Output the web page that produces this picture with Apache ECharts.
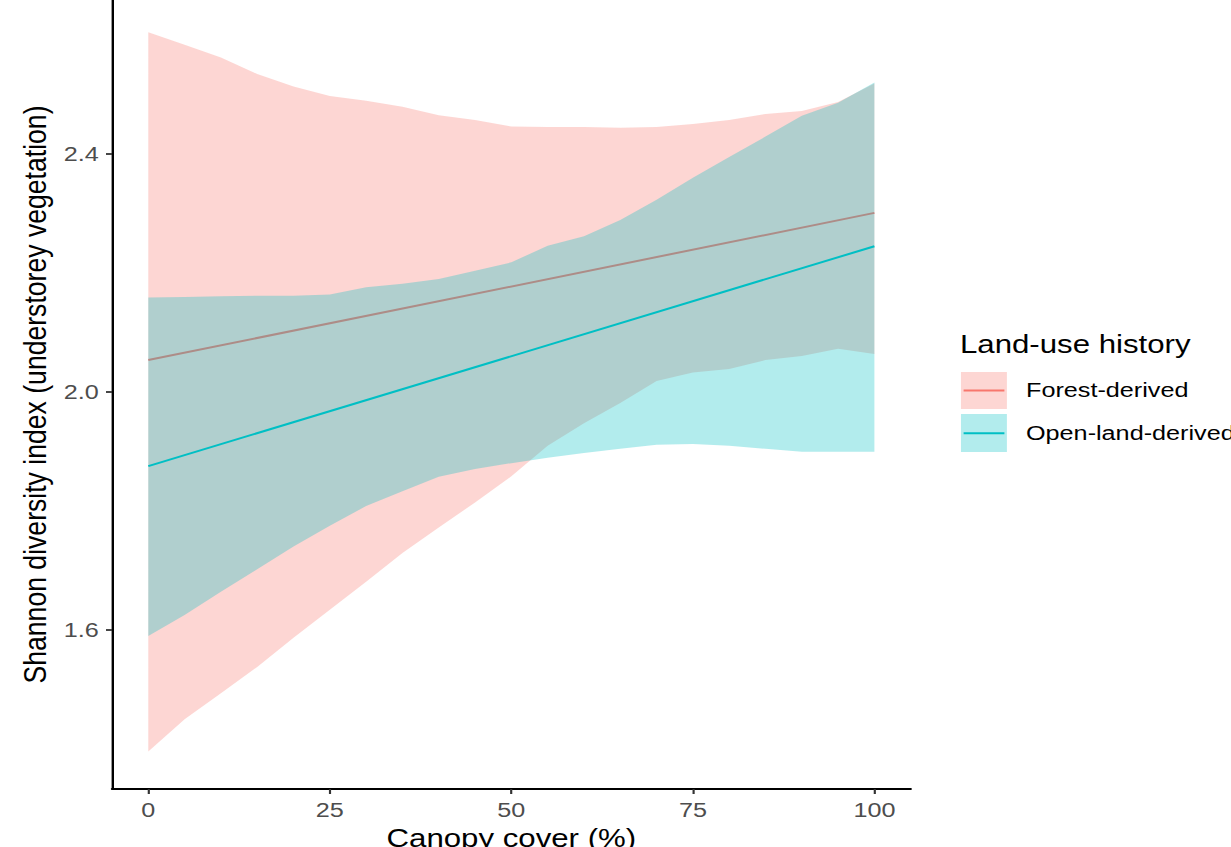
<!DOCTYPE html>
<html>
<head>
<meta charset="utf-8">
<script src="https://cdn.jsdelivr.net/npm/echarts@6/dist/echarts.min.js"></script>
<style>
  html, body { margin: 0; padding: 0; overflow: hidden; background: #fff; width: 1231px; height: 847px; }
  /* the figure is drawn narrow and widened horizontally, like the original export */
  #chart { width: 1025.83px; height: 847px; transform: scaleX(1.2); transform-origin: 0 0; }
</style>
</head>
<body>
<div id="chart"></div>
<script>
// Canopy cover (%) at which the model prediction bands are evaluated
const canopy = [0, 5, 10, 15, 20, 25, 30, 35, 40, 45, 50, 55, 60, 65, 70, 75, 80, 85, 90, 95, 100];

// 95% confidence band, forest-derived stands
const forestLower = [1.396, 1.450, 1.494, 1.538, 1.587, 1.634, 1.681, 1.729, 1.772, 1.814, 1.858,
                     1.909, 1.947, 1.981, 2.018, 2.032, 2.038, 2.053, 2.060, 2.072, 2.063];
const forestUpper = [2.603, 2.582, 2.561, 2.533, 2.512, 2.496, 2.488, 2.478, 2.464, 2.456, 2.445,
                     2.444, 2.444, 2.443, 2.444, 2.449, 2.456, 2.466, 2.471, 2.486, 2.517];

// 95% confidence band, open-land-derived stands
const openLower = [1.590, 1.625, 1.664, 1.702, 1.740, 1.775, 1.808, 1.833, 1.857, 1.870, 1.880,
                   1.889, 1.897, 1.904, 1.911, 1.912, 1.909, 1.904, 1.899, 1.899, 1.899];
const openUpper = [2.158, 2.159, 2.160, 2.161, 2.161, 2.163, 2.175, 2.181, 2.189, 2.203, 2.217,
                   2.245, 2.261, 2.288, 2.322, 2.359, 2.394, 2.428, 2.463, 2.485, 2.519];

// Fitted linear trends (end points)
const fitX = [0, 100];
const forestFit = [2.053, 2.300];
const openFit = [1.875, 2.244];

// Axis ticks
const xTicks = [0, 25, 50, 75, 100];
const yTicks = [1.6, 2.0, 2.4];

const FOREST = '#F8766D';
const OPEN = '#00BFC4';
const FONT = '"Liberation Sans", Arial, Helvetica, sans-serif';

const pairs = (xs, ys) => xs.map((x, i) => [x, ys[i]]);

// One filled polygon per confidence band: upper edge left-to-right, lower edge back.
function bandSeries(name, lower, upper, color, z) {
  const rows = canopy.map((x, i) => [x, lower[i], upper[i]]);
  return {
    name: name + ' band', type: 'custom', data: rows, silent: true, z: z,
    encode: { x: 0, y: [1, 2] },
    renderItem: function (params, api) {
      if (params.dataIndex !== 0) return null;
      const top = rows.map(r => api.coord([r[0], r[2]]));
      const bottom = rows.slice().reverse().map(r => api.coord([r[0], r[1]]));
      return {
        type: 'polygon',
        shape: { points: top.concat(bottom) },
        style: { fill: color, opacity: 0.3 }
      };
    }
  };
}

function fitSeries(name, ys, color, z) {
  return {
    name: name, type: 'line', data: pairs(fitX, ys), symbol: 'none', z: z,
    lineStyle: { color: color, width: 2 }, silent: true
  };
}

const chart = echarts.init(document.getElementById('chart'), null, { renderer: 'svg' });

chart.setOption({
  animation: false,
  backgroundColor: '#fff',
  grid: { left: 93.33, top: 0, width: 665.6, height: 789, containLabel: false, outerBoundsMode: 'none' },
  xAxis: {
    type: 'value', min: -5, max: 105,
    name: 'Canopy cover (%)', nameLocation: 'middle', nameGap: 33,
    nameTextStyle: { color: '#000', fontSize: 26, fontFamily: FONT },
    axisLine: { show: true, onZero: false, lineStyle: { color: '#000', width: 2 } },
    axisTick: { show: true, length: 5, customValues: xTicks, lineStyle: { color: '#333', width: 1.8 } },
    axisLabel: { customValues: xTicks, margin: 10, color: '#4D4D4D', fontSize: 21, fontFamily: FONT },
    splitLine: { show: false }
  },
  yAxis: {
    type: 'value', min: 1.3331, max: 2.6573,
    name: 'Shannon diversity index (understorey vegetation)', nameLocation: 'middle', nameGap: 48,
    nameTextStyle: { color: '#000', fontSize: 26.6, fontFamily: FONT },
    axisLine: { show: true, onZero: false, lineStyle: { color: '#000', width: 2 } },
    axisTick: { show: true, length: 5, customValues: yTicks, lineStyle: { color: '#333', width: 1.8 } },
    axisLabel: {
      customValues: yTicks, margin: 11, color: '#4D4D4D', fontSize: 21, fontFamily: FONT,
      formatter: v => Number(v).toFixed(1)
    },
    splitLine: { show: false }
  },
  series: [
    bandSeries('Forest-derived', forestLower, forestUpper, FOREST, 1),
    fitSeries('Forest-derived', forestFit, FOREST, 2),
    bandSeries('Open-land-derived', openLower, openUpper, OPEN, 3),
    fitSeries('Open-land-derived', openFit, OPEN, 4)
  ],
  graphic: [
    {
      type: 'text', left: 800, top: 331,
      style: { text: 'Land-use history', fill: '#000', font: '26px ' + FONT }
    },
    { type: 'rect', shape: { x: 800.8, y: 372, width: 38.3, height: 37 },
      style: { fill: 'rgba(248,118,109,0.3)' } },
    { type: 'line', shape: { x1: 803, y1: 390.5, x2: 837, y2: 390.5 },
      style: { stroke: FOREST, lineWidth: 2 } },
    { type: 'text', left: 855, top: 379,
      style: { text: 'Forest-derived', fill: '#000', font: '21px ' + FONT } },
    { type: 'rect', shape: { x: 800.8, y: 414, width: 38.3, height: 38 },
      style: { fill: 'rgba(0,191,196,0.3)' } },
    { type: 'line', shape: { x1: 803, y1: 433.3, x2: 837, y2: 433.3 },
      style: { stroke: OPEN, lineWidth: 2 } },
    { type: 'text', left: 855, top: 422,
      style: { text: 'Open-land-derived', fill: '#000', font: '21px ' + FONT } }
  ]
});
</script>
</body>
</html>
